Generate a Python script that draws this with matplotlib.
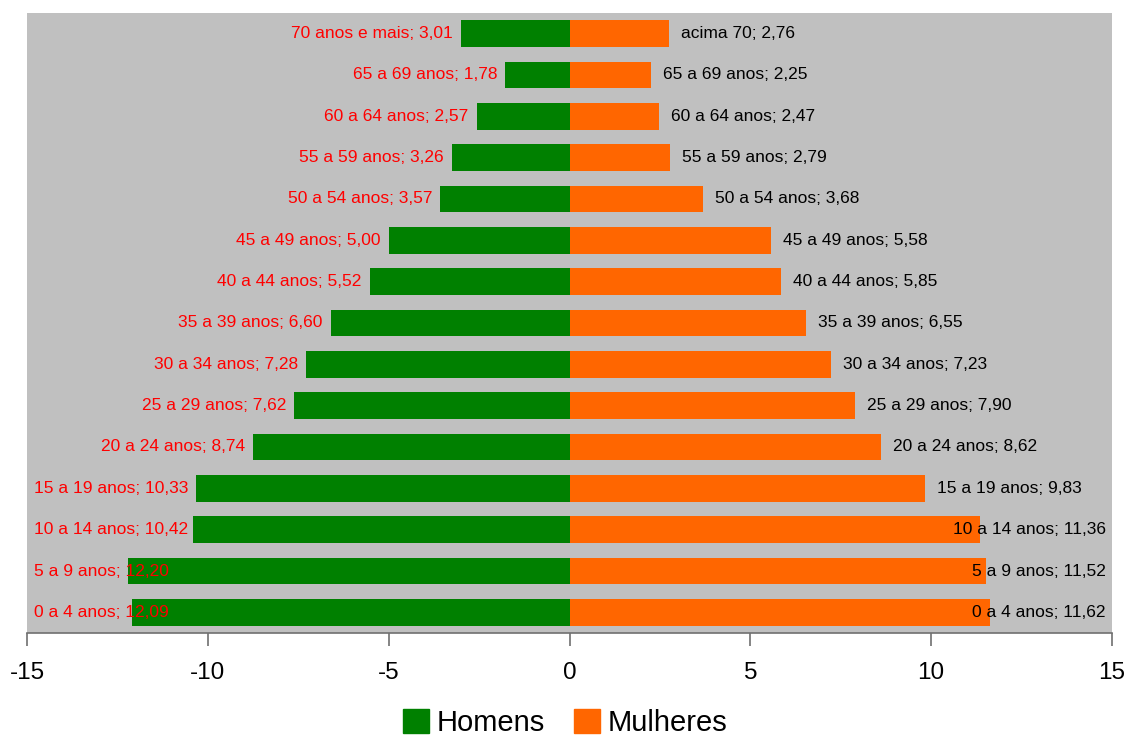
import matplotlib
matplotlib.use("Agg")
import matplotlib.pyplot as plt
from matplotlib.patches import Patch
from matplotlib import font_manager

categories = ["0 a 4 anos", "5 a 9 anos", "10 a 14 anos", "15 a 19 anos", "20 a 24 anos",
              "25 a 29 anos", "30 a 34 anos", "35 a 39 anos", "40 a 44 anos", "45 a 49 anos",
              "50 a 54 anos", "55 a 59 anos", "60 a 64 anos", "65 a 69 anos", "70 anos e mais"]
women_categories = categories[:-1] + ["acima 70"]
homens = [12.09, 12.20, 10.42, 10.33, 8.74, 7.62, 7.28, 6.60, 5.52, 5.00, 3.57, 3.26, 2.57, 1.78, 3.01]
mulheres = [11.62, 11.52, 11.36, 9.83, 8.62, 7.90, 7.23, 6.55, 5.85, 5.58, 3.68, 2.79, 2.47, 2.25, 2.76]
xticks = [-15, -10, -5, 0, 5, 10, 15]

names = {f.name for f in font_manager.fontManager.ttflist}
fam = "Liberation Sans Narrow" if "Liberation Sans Narrow" in names else "Liberation Sans"
plt.rcParams["font.family"] = [fam, "DejaVu Sans"]

W, H = 1127, 742
fig = plt.figure(figsize=(W / 100, H / 100), dpi=100)
ax = fig.add_axes([27 / W, (H - 633) / H, (1112 - 27) / W, (633 - 13) / H])
ax.set_facecolor("#C0C0C0")

y = list(range(len(categories)))
ax.barh(y, [-v for v in homens], height=0.65, color="#008000", zorder=2)
ax.barh(y, mulheres, height=0.65, color="#FF6600", zorder=2)

ax.set_xlim(-15, 15)
ax.set_ylim(-0.5, len(categories) - 0.5)
ax.set_xticks(xticks)
ax.set_xticklabels([str(t) for t in xticks], fontsize=17.5)
ax.set_yticks([])
for s in ["top", "left", "right"]:
    ax.spines[s].set_visible(False)
ax.spines["bottom"].set_color("#707070")
ax.spines["bottom"].set_linewidth(1.2)
ax.tick_params(axis="x", direction="out", length=9, width=1.2, color="#707070", pad=12)

fmt = lambda v: f"{v:.2f}".replace(".", ",")
left_texts = []
right_texts = []
for i, (c, v) in enumerate(zip(categories, homens)):
    t = ax.text(-v, i, f"{c}; {fmt(v)}", ha="right", va="center", color="#FF0000",
                fontsize=12.5, zorder=3)
    left_texts.append(t)
for i, (c, v) in enumerate(zip(women_categories, mulheres)):
    t = ax.text(v, i, f"{c}; {fmt(v)}", ha="left", va="center", color="black",
                fontsize=12.5, zorder=3)
    right_texts.append(t)

fig.canvas.draw()
r = fig.canvas.get_renderer()
axbb = ax.get_window_extent(r)
inv = ax.transData.inverted()
for t, v in zip(left_texts, homens):
    bb = t.get_window_extent(r)
    xend = ax.transData.transform((-v, 0))[0] - 8
    w = bb.width
    if xend - w < axbb.x0 + 7:
        xend = axbb.x0 + 7 + w
    t.set_x(inv.transform((xend, 0))[0])
for t, v in zip(right_texts, mulheres):
    bb = t.get_window_extent(r)
    xs = ax.transData.transform((v, 0))[0] + 12
    w = bb.width
    if xs + w > axbb.x1 - 6:
        xs = axbb.x1 - 6 - w
    t.set_x(inv.transform((xs, 0))[0])

handles = [Patch(color="#008000", label="Homens"), Patch(color="#FF6600", label="Mulheres")]
fig.legend(handles=handles, loc="center", bbox_to_anchor=(565 / W, 1 - 723 / H), ncol=2,
           frameon=False, fontsize=21, handlelength=0.9, handleheight=0.9,
           handletextpad=0.25, columnspacing=1.0, borderpad=0.2)

fig.savefig("out.png", dpi=100)
